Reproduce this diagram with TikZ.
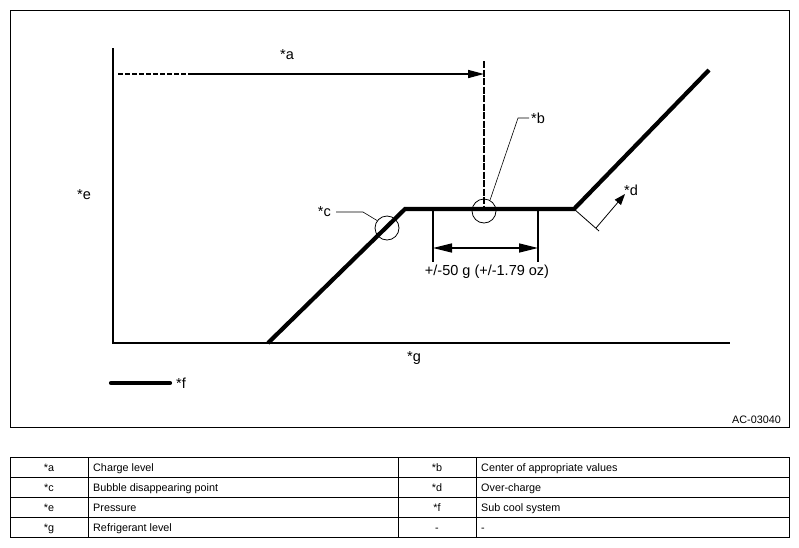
\documentclass[tikz,border=0pt]{standalone}
\usepackage{fontspec}
\setmainfont{Liberation Sans}
\usetikzlibrary{arrows.meta,positioning}

\begin{document}
\begin{tikzpicture}[x=1pt,y=-1pt,
    lbl/.style={font=\fontsize{14.5}{16}\selectfont, inner sep=0pt},
    cell/.style={font=\fontsize{10.8}{12}\selectfont, inner sep=0pt},
    curve/.style={line width=4.2pt},
    axis/.style={line width=1.6pt},
    leader/.style={line width=0.6pt},
    ring/.style={circle, draw, line width=0.8pt, minimum size=24pt, inner sep=0pt},
    rule/.style={line width=0.9pt}]
  \useasboundingbox (0,0) rectangle (799,547);
  \draw[rule] (10,10) rectangle (789,427);

  % axes
  \coordinate (ytop) at (113,48);
  \coordinate (o) at (113,343);
  \coordinate (xend) at (730,343);
  \draw[axis] (ytop) -- (o) -- (xend);
  \node[lbl] (e) at (84,195) {*e};
  \node[lbl] (g) at (414,358) {*g};

  % charge curve
  \coordinate (p0) at (268,343);
  \coordinate (p1) at (405,209);
  \coordinate (p2) at (574,209);
  \coordinate (p3) at (709,70);
  \draw[curve] (p0) -- (p1) -- (p2) -- (p3);

  % rings
  \node[ring] (c) at (387,228) {};
  \node[ring] (b) at (484,211) {};
  \node[lbl, anchor=east] (lc) at (331,212) {*c};
  \node[lbl, anchor=west] (lb) at (531,118) {*b};
  \draw[leader] ([xshift=5pt]lc.east) -- ++(27,0) -- (c.143);
  \draw[leader] ([xshift=-2pt]lb.west) -- ++(-11,0) -- (b.61);

  % charge level
  \coordinate (a0) at (118,74);
  \coordinate (a1) at (190,74);
  \coordinate (a2) at (484,74);
  \coordinate (vtop) at (484,61);
  \node[lbl] (a) at (287,55) {*a};
  \draw[axis, dash pattern=on 5pt off 2pt] (a0) -- (a1);
  \draw[axis, -{Triangle[length=16pt,width=8pt]}] (a1) -- (a2);
  \draw[axis, dash pattern=on 7pt off 1.5pt] (vtop) -- (b.center);

  % tolerance
  \coordinate (dl) at (433,209);
  \coordinate (dr) at (538,209);
  \draw[axis] (dl) -- ++(0,53) coordinate (dlb);
  \draw[axis] (dr) -- ++(0,53) coordinate (drb);
  \coordinate (ml) at (433,248);
  \coordinate (mr) at (538,248);
  \draw[axis, {Triangle[length=19pt,width=9pt]}-{Triangle[length=19pt,width=9pt]}] (ml) -- (mr);
  \node[lbl] (tol) at (487,272) {+/-50 g (+/-1.79 oz)};

  % over-charge
  \coordinate (dq) at (599,231);
  \coordinate (dbase) at (596,228);
  \draw[line width=0.8pt] (p2) -- (dq);
  \draw[line width=0.8pt, -{Triangle[length=11pt,width=8pt]}] (dbase) -- (625,194) coordinate (dtip);
  \node[lbl, anchor=west] (d) at (624,190) {*d};

  % legend
  \coordinate (f0) at (111,383);
  \coordinate (f1) at (170,383);
  \draw[curve, line cap=round] (f0) -- (f1);
  \node[lbl, anchor=west] (f) at (176,383) {*f};
  \node[cell, anchor=east] (id) at (781,420) {AC-03040};

  % key table
  \draw[rule] (10,457) rectangle (789,537);
  \foreach \y in {477,497,517}
    \draw[rule] (10,\y) -- (789,\y);
  \foreach \x in {88,398,476}
    \draw[rule] (\x,457) -- (\x,537);
  \foreach \ka/\ta/\kb/\tb [count=\i] in {*a/Charge level/*b/Center of appropriate values,
      *c/Bubble disappearing point/*d/Over-charge,
      *e/Pressure/*f/Sub cool system,
      *g/Refrigerant level/-/-}
  {
    \node[cell, anchor=base] (ka\i) at (49,451+20*\i) {\ka};
    \node[cell, anchor=base west] (ta\i) at (93,451+20*\i) {\ta};
    \node[cell, anchor=base] (kb\i) at (437,451+20*\i) {\kb};
    \node[cell, anchor=base west] (tb\i) at (481,451+20*\i) {\tb};
  }
\end{tikzpicture}
\end{document}
